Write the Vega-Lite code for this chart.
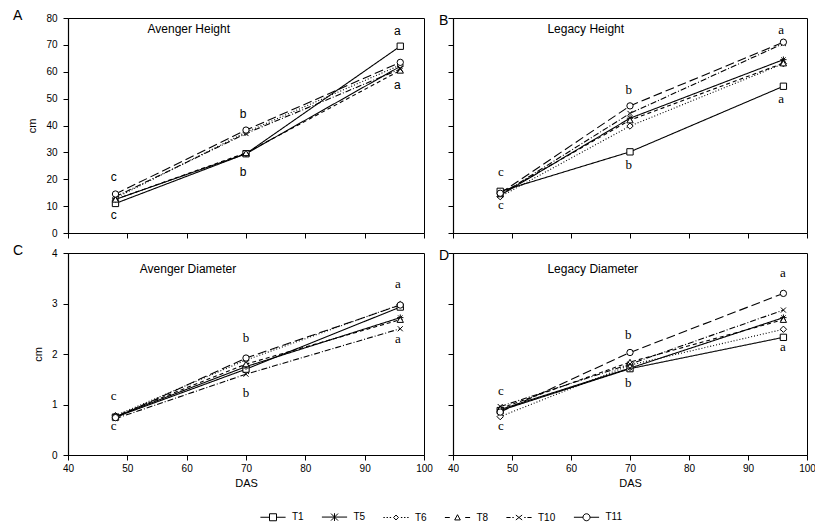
{
  "$schema": "https://vega.github.io/schema/vega-lite/v6.json",
  "padding": {"left": 12, "top": 8, "right": 5, "bottom": 2},
  "datasets": {
    "lines": [
      {"panel":"A","T":"T1","DAS":48,"v":11},{"panel":"A","T":"T1","DAS":70,"v":29.5},{"panel":"A","T":"T1","DAS":96,"v":69.5},
      {"panel":"A","T":"T5","DAS":48,"v":12.5},{"panel":"A","T":"T5","DAS":70,"v":29.5},{"panel":"A","T":"T5","DAS":96,"v":62},
      {"panel":"A","T":"T6","DAS":48,"v":13},{"panel":"A","T":"T6","DAS":70,"v":37.5},{"panel":"A","T":"T6","DAS":96,"v":62.5},
      {"panel":"A","T":"T8","DAS":48,"v":12.5},{"panel":"A","T":"T8","DAS":70,"v":29.8},{"panel":"A","T":"T8","DAS":96,"v":60.5},
      {"panel":"A","T":"T10","DAS":48,"v":13.5},{"panel":"A","T":"T10","DAS":70,"v":37},{"panel":"A","T":"T10","DAS":96,"v":61},
      {"panel":"A","T":"T11","DAS":48,"v":14.5},{"panel":"A","T":"T11","DAS":70,"v":38.3},{"panel":"A","T":"T11","DAS":96,"v":63.5},
      {"panel":"B","T":"T1","DAS":48,"v":15.5},{"panel":"B","T":"T1","DAS":70,"v":30.2},{"panel":"B","T":"T1","DAS":96,"v":54.6},
      {"panel":"B","T":"T5","DAS":48,"v":14},{"panel":"B","T":"T5","DAS":70,"v":42.7},{"panel":"B","T":"T5","DAS":96,"v":64.5},
      {"panel":"B","T":"T6","DAS":48,"v":13.5},{"panel":"B","T":"T6","DAS":70,"v":39.8},{"panel":"B","T":"T6","DAS":96,"v":63},
      {"panel":"B","T":"T8","DAS":48,"v":14.5},{"panel":"B","T":"T8","DAS":70,"v":42},{"panel":"B","T":"T8","DAS":96,"v":63.2},
      {"panel":"B","T":"T10","DAS":48,"v":14.2},{"panel":"B","T":"T10","DAS":70,"v":44.5},{"panel":"B","T":"T10","DAS":96,"v":70.5},
      {"panel":"B","T":"T11","DAS":48,"v":14.8},{"panel":"B","T":"T11","DAS":70,"v":47.3},{"panel":"B","T":"T11","DAS":96,"v":71},
      {"panel":"C","T":"T1","DAS":48,"v":0.75},{"panel":"C","T":"T1","DAS":70,"v":1.7},{"panel":"C","T":"T1","DAS":96,"v":2.93},
      {"panel":"C","T":"T5","DAS":48,"v":0.76},{"panel":"C","T":"T5","DAS":70,"v":1.75},{"panel":"C","T":"T5","DAS":96,"v":2.72},
      {"panel":"C","T":"T6","DAS":48,"v":0.78},{"panel":"C","T":"T6","DAS":70,"v":1.88},{"panel":"C","T":"T6","DAS":96,"v":2.98},
      {"panel":"C","T":"T8","DAS":48,"v":0.77},{"panel":"C","T":"T8","DAS":70,"v":1.8},{"panel":"C","T":"T8","DAS":96,"v":2.68},
      {"panel":"C","T":"T10","DAS":48,"v":0.72},{"panel":"C","T":"T10","DAS":70,"v":1.6},{"panel":"C","T":"T10","DAS":96,"v":2.5},
      {"panel":"C","T":"T11","DAS":48,"v":0.74},{"panel":"C","T":"T11","DAS":70,"v":1.92},{"panel":"C","T":"T11","DAS":96,"v":2.97},
      {"panel":"D","T":"T1","DAS":48,"v":0.88},{"panel":"D","T":"T1","DAS":70,"v":1.71},{"panel":"D","T":"T1","DAS":96,"v":2.33},
      {"panel":"D","T":"T5","DAS":48,"v":0.9},{"panel":"D","T":"T5","DAS":70,"v":1.72},{"panel":"D","T":"T5","DAS":96,"v":2.72},
      {"panel":"D","T":"T6","DAS":48,"v":0.76},{"panel":"D","T":"T6","DAS":70,"v":1.78},{"panel":"D","T":"T6","DAS":96,"v":2.49},
      {"panel":"D","T":"T8","DAS":48,"v":0.92},{"panel":"D","T":"T8","DAS":70,"v":1.84},{"panel":"D","T":"T8","DAS":96,"v":2.68},
      {"panel":"D","T":"T10","DAS":48,"v":0.96},{"panel":"D","T":"T10","DAS":70,"v":1.8},{"panel":"D","T":"T10","DAS":96,"v":2.87},
      {"panel":"D","T":"T11","DAS":48,"v":0.85},{"panel":"D","T":"T11","DAS":70,"v":2.03},{"panel":"D","T":"T11","DAS":96,"v":3.2}
    ],
    "sig": [
      {"panel":"A","DAS":47.7,"v":20.8,"label":"c"},{"panel":"A","DAS":47.7,"v":6.8,"label":"c"},
      {"panel":"A","DAS":69.5,"v":44.3,"label":"b"},{"panel":"A","DAS":69.5,"v":22.7,"label":"b"},
      {"panel":"A","DAS":95.5,"v":75.3,"label":"a"},{"panel":"A","DAS":95.5,"v":55.1,"label":"a"},
      {"panel":"B","DAS":48.1,"v":22.7,"label":"c"},{"panel":"B","DAS":48.1,"v":10.3,"label":"c"},
      {"panel":"B","DAS":69.8,"v":53.2,"label":"b"},{"panel":"B","DAS":69.8,"v":25.2,"label":"b"},
      {"panel":"B","DAS":95.6,"v":75.6,"label":"a"},{"panel":"B","DAS":95.6,"v":49.9,"label":"a"},
      {"panel":"C","DAS":47.7,"v":1.17,"label":"c"},{"panel":"C","DAS":47.7,"v":0.57,"label":"c"},
      {"panel":"C","DAS":70,"v":2.31,"label":"b"},{"panel":"C","DAS":70,"v":1.22,"label":"b"},
      {"panel":"C","DAS":95.6,"v":3.38,"label":"a"},{"panel":"C","DAS":95.6,"v":2.29,"label":"a"},
      {"panel":"D","DAS":48.1,"v":1.26,"label":"c"},{"panel":"D","DAS":48.1,"v":0.58,"label":"c"},
      {"panel":"D","DAS":69.7,"v":2.37,"label":"b"},{"panel":"D","DAS":69.7,"v":1.43,"label":"b"},
      {"panel":"D","DAS":95.9,"v":3.6,"label":"a"},{"panel":"D","DAS":95.9,"v":2.14,"label":"a"}
    ],
    "ttl": [
      {"panel":"A","DAS":53.4,"v":75.9,"label":"Avenger Height"},
      {"panel":"B","DAS":56,"v":76,"label":"Legacy Height"},
      {"panel":"C","DAS":52.1,"v":3.68,"label":"Avenger Diameter"},
      {"panel":"D","DAS":56,"v":3.68,"label":"Legacy Diameter"}
    ]
  },
  "concat": [
    {
      "width": 356, "height": 215,
      "title": {"text": "A", "dx": -55},
      "resolve": {"scale": {"shape": "independent"}, "legend": {"shape": "independent"}},
      "layer": [
        {"data": {"name": "lines"}, "transform": [{"filter": "datum.panel==='A'"}],
         "mark": {"type": "line", "color": "black", "strokeWidth": 1.1},
         "encoding": {
           "x": {"field": "DAS", "type": "quantitative", "scale": {"domain": [40, 100]}, "axis": {"tickCount": 7, "labels": false, "title": null}},
           "y": {"field": "v", "type": "quantitative", "scale": {"domain": [0, 80]}, "axis": {"tickCount": 9, "format": "d", "labelOverlap": false, "title": "cm"}},
           "strokeDash": {"field": "T", "type": "nominal", "scale": {"domain": ["T1","T5","T6","T8","T10","T11"], "range": [[1,0],[1,0],[1,2],[4,3],[6,2,1,2],[9,4]]}, "legend": null}
         }},
        {"data": {"name": "lines"}, "transform": [{"filter": "datum.panel==='A'"}],
         "mark": {"type": "point", "fill": "white", "stroke": "black", "strokeWidth": 1, "size": 40, "opacity": 1},
         "encoding": {
           "x": {"field": "DAS", "type": "quantitative", "scale": {"domain": [40, 100]}},
           "y": {"field": "v", "type": "quantitative", "scale": {"domain": [0, 80]}},
           "shape": {"field": "T", "type": "nominal", "scale": {"domain": ["T1","T5","T6","T8","T10","T11"], "range": ["square", "M-1,0H1M0,-1V1M-0.7,-0.7L0.7,0.7M-0.7,0.7L0.7,-0.7", "diamond", "triangle-up", "M-0.8,-0.8L0.8,0.8M-0.8,0.8L0.8,-0.8", "circle"]}, "legend": null}
         }},
        {"data": {"name": "lines"}, "transform": [{"filter": "datum.panel==='none'"}],
         "mark": {"type": "point", "color": "black", "filled": false, "strokeWidth": 1, "opacity": 1},
         "encoding": {
           "x": {"field": "DAS", "type": "quantitative", "scale": {"domain": [40, 100]}},
           "y": {"field": "v", "type": "quantitative", "scale": {"domain": [0, 80]}},
           "shape": {"field": "T", "type": "nominal",
             "scale": {"domain": ["T1","T5","T6","T8","T10","T11"], "range": [
               "M-3.6,0H-1M1,0H3.6M-1,-1H1V1H-1Z",
               "M-3.6,0H3.6M-1,-1L1,1M-1,1L1,-1M0,-1.1V1.1",
               "M-3.6,0H-3.2M-2.7,0H-2.3M-1.8,0H-1.4M1.4,0H1.8M2.3,0H2.7M3.2,0H3.6M0,-0.7L0.7,0L0,0.7L-0.7,0Z",
               "M-3.6,0H-2.2M2.2,0H3.6M-0.8,0.7L0,-0.8L0.8,0.7Z",
               "M-3.6,0H-2.4M-1.9,0H-1.5M1.5,0H1.9M2.4,0H3.6M-0.9,-0.7L0.9,0.7M-0.9,0.7L0.9,-0.7",
               "M-3.6,0H-1M1,0H3.6M1,0A1,1,0,1,1,-1,0A1,1,0,1,1,1,0Z"]},
             "legend": {"orient": "none", "legendX": 200, "legendY": 494, "direction": "horizontal", "title": null, "symbolSize": 49, "symbolStrokeWidth": 1, "symbolOpacity": 1, "labelFont": "Liberation Sans Narrow, Arial Narrow, Liberation Sans, sans-serif", "labelFontSize": 10, "labelColor": "black", "labelOffset": 14, "columnPadding": 15.5,
               "encode": {"symbols": {"stroke": {"value": "black"}, "fill": {"value": "white"}, "strokeWidth": {"value": 1}, "opacity": {"value": 1}}}}}
         }},
        {"data": {"name": "sig"}, "transform": [{"filter": "datum.panel==='A'"}],
         "mark": {"type": "text", "font": "Liberation Sans Narrow, Arial Narrow, Liberation Sans, sans-serif", "fontSize": 12, "color": "black", "fill": "black"},
         "encoding": {
           "x": {"field": "DAS", "type": "quantitative", "scale": {"domain": [40, 100]}},
           "y": {"field": "v", "type": "quantitative", "scale": {"domain": [0, 80]}},
           "text": {"field": "label"}
         }},
        {"data": {"name": "ttl"}, "transform": [{"filter": "datum.panel==='A'"}],
         "mark": {"type": "text", "font": "Liberation Sans, sans-serif", "fontSize": 12, "align": "left", "color": "black", "fill": "black"},
         "encoding": {
           "x": {"field": "DAS", "type": "quantitative", "scale": {"domain": [40, 100]}},
           "y": {"field": "v", "type": "quantitative", "scale": {"domain": [0, 80]}},
           "text": {"field": "label"}
         }}
      ]
    },
    {
      "width": 354, "height": 215,
      "title": {"text": "B", "dx": -14},
      "layer": [
        {"data": {"name": "lines"}, "transform": [{"filter": "datum.panel==='B'"}],
         "mark": {"type": "line", "color": "black", "strokeWidth": 1.1},
         "encoding": {
           "x": {"field": "DAS", "type": "quantitative", "scale": {"domain": [40, 100]}, "axis": {"tickCount": 7, "labels": false, "title": null}},
           "y": {"field": "v", "type": "quantitative", "scale": {"domain": [0, 80]}, "axis": {"tickCount": 9, "labels": false, "title": null}},
           "strokeDash": {"field": "T", "type": "nominal", "scale": {"domain": ["T1","T5","T6","T8","T10","T11"], "range": [[1,0],[1,0],[1,2],[4,3],[6,2,1,2],[9,4]]}, "legend": null}
         }},
        {"data": {"name": "lines"}, "transform": [{"filter": "datum.panel==='B'"}],
         "mark": {"type": "point", "fill": "white", "stroke": "black", "strokeWidth": 1, "size": 40, "opacity": 1},
         "encoding": {
           "x": {"field": "DAS", "type": "quantitative", "scale": {"domain": [40, 100]}},
           "y": {"field": "v", "type": "quantitative", "scale": {"domain": [0, 80]}},
           "shape": {"field": "T", "type": "nominal", "scale": {"domain": ["T1","T5","T6","T8","T10","T11"], "range": ["square", "M-1,0H1M0,-1V1M-0.7,-0.7L0.7,0.7M-0.7,0.7L0.7,-0.7", "diamond", "triangle-up", "M-0.8,-0.8L0.8,0.8M-0.8,0.8L0.8,-0.8", "circle"]}, "legend": null}
         }},
        {"data": {"name": "sig"}, "transform": [{"filter": "datum.panel==='B'"}],
         "mark": {"type": "text", "font": "Liberation Serif, Times New Roman, serif", "fontSize": 13, "color": "black", "fill": "black"},
         "encoding": {
           "x": {"field": "DAS", "type": "quantitative", "scale": {"domain": [40, 100]}},
           "y": {"field": "v", "type": "quantitative", "scale": {"domain": [0, 80]}},
           "text": {"field": "label"}
         }},
        {"data": {"name": "ttl"}, "transform": [{"filter": "datum.panel==='B'"}],
         "mark": {"type": "text", "font": "Liberation Sans, sans-serif", "fontSize": 12, "align": "left", "color": "black", "fill": "black"},
         "encoding": {
           "x": {"field": "DAS", "type": "quantitative", "scale": {"domain": [40, 100]}},
           "y": {"field": "v", "type": "quantitative", "scale": {"domain": [0, 80]}},
           "text": {"field": "label"}
         }}
      ]
    },
    {
      "width": 356, "height": 202,
      "title": {"text": "C", "dx": -55},
      "layer": [
        {"data": {"name": "lines"}, "transform": [{"filter": "datum.panel==='C'"}],
         "mark": {"type": "line", "color": "black", "strokeWidth": 1.1},
         "encoding": {
           "x": {"field": "DAS", "type": "quantitative", "scale": {"domain": [40, 100]}, "axis": {"tickCount": 7, "format": "d", "labelOverlap": false, "title": "DAS"}},
           "y": {"field": "v", "type": "quantitative", "scale": {"domain": [0, 4]}, "axis": {"tickCount": 5, "format": "d", "labelOverlap": false, "title": "cm"}},
           "strokeDash": {"field": "T", "type": "nominal", "scale": {"domain": ["T1","T5","T6","T8","T10","T11"], "range": [[1,0],[1,0],[1,2],[4,3],[6,2,1,2],[9,4]]}, "legend": null}
         }},
        {"data": {"name": "lines"}, "transform": [{"filter": "datum.panel==='C'"}],
         "mark": {"type": "point", "fill": "white", "stroke": "black", "strokeWidth": 1, "size": 40, "opacity": 1},
         "encoding": {
           "x": {"field": "DAS", "type": "quantitative", "scale": {"domain": [40, 100]}},
           "y": {"field": "v", "type": "quantitative", "scale": {"domain": [0, 4]}},
           "shape": {"field": "T", "type": "nominal", "scale": {"domain": ["T1","T5","T6","T8","T10","T11"], "range": ["square", "M-1,0H1M0,-1V1M-0.7,-0.7L0.7,0.7M-0.7,0.7L0.7,-0.7", "diamond", "triangle-up", "M-0.8,-0.8L0.8,0.8M-0.8,0.8L0.8,-0.8", "circle"]}, "legend": null}
         }},
        {"data": {"name": "sig"}, "transform": [{"filter": "datum.panel==='C'"}],
         "mark": {"type": "text", "font": "Liberation Serif, Times New Roman, serif", "fontSize": 13, "color": "black", "fill": "black"},
         "encoding": {
           "x": {"field": "DAS", "type": "quantitative", "scale": {"domain": [40, 100]}},
           "y": {"field": "v", "type": "quantitative", "scale": {"domain": [0, 4]}},
           "text": {"field": "label"}
         }},
        {"data": {"name": "ttl"}, "transform": [{"filter": "datum.panel==='C'"}],
         "mark": {"type": "text", "font": "Liberation Sans, sans-serif", "fontSize": 12, "align": "left", "color": "black", "fill": "black"},
         "encoding": {
           "x": {"field": "DAS", "type": "quantitative", "scale": {"domain": [40, 100]}},
           "y": {"field": "v", "type": "quantitative", "scale": {"domain": [0, 4]}},
           "text": {"field": "label"}
         }}
      ]
    },
    {
      "width": 354, "height": 202,
      "title": {"text": "D", "dx": -14},
      "layer": [
        {"data": {"name": "lines"}, "transform": [{"filter": "datum.panel==='D'"}],
         "mark": {"type": "line", "color": "black", "strokeWidth": 1.1},
         "encoding": {
           "x": {"field": "DAS", "type": "quantitative", "scale": {"domain": [40, 100]}, "axis": {"tickCount": 7, "format": "d", "labelOverlap": false, "title": "DAS"}},
           "y": {"field": "v", "type": "quantitative", "scale": {"domain": [0, 4]}, "axis": {"tickCount": 5, "labels": false, "title": null}},
           "strokeDash": {"field": "T", "type": "nominal", "scale": {"domain": ["T1","T5","T6","T8","T10","T11"], "range": [[1,0],[1,0],[1,2],[4,3],[6,2,1,2],[9,4]]}, "legend": null}
         }},
        {"data": {"name": "lines"}, "transform": [{"filter": "datum.panel==='D'"}],
         "mark": {"type": "point", "fill": "white", "stroke": "black", "strokeWidth": 1, "size": 40, "opacity": 1},
         "encoding": {
           "x": {"field": "DAS", "type": "quantitative", "scale": {"domain": [40, 100]}},
           "y": {"field": "v", "type": "quantitative", "scale": {"domain": [0, 4]}},
           "shape": {"field": "T", "type": "nominal", "scale": {"domain": ["T1","T5","T6","T8","T10","T11"], "range": ["square", "M-1,0H1M0,-1V1M-0.7,-0.7L0.7,0.7M-0.7,0.7L0.7,-0.7", "diamond", "triangle-up", "M-0.8,-0.8L0.8,0.8M-0.8,0.8L0.8,-0.8", "circle"]}, "legend": null}
         }},
        {"data": {"name": "sig"}, "transform": [{"filter": "datum.panel==='D'"}],
         "mark": {"type": "text", "font": "Liberation Serif, Times New Roman, serif", "fontSize": 13, "color": "black", "fill": "black"},
         "encoding": {
           "x": {"field": "DAS", "type": "quantitative", "scale": {"domain": [40, 100]}},
           "y": {"field": "v", "type": "quantitative", "scale": {"domain": [0, 4]}},
           "text": {"field": "label"}
         }},
        {"data": {"name": "ttl"}, "transform": [{"filter": "datum.panel==='D'"}],
         "mark": {"type": "text", "font": "Liberation Sans, sans-serif", "fontSize": 12, "align": "left", "color": "black", "fill": "black"},
         "encoding": {
           "x": {"field": "DAS", "type": "quantitative", "scale": {"domain": [40, 100]}},
           "y": {"field": "v", "type": "quantitative", "scale": {"domain": [0, 4]}},
           "text": {"field": "label"}
         }}
      ]
    }
  ],
  "columns": 2,
  "bounds": "flush",
  "spacing": {"row": 20, "column": 29},
  "resolve": {"scale": {"shape": "independent", "strokeDash": "independent"}, "legend": {"shape": "independent", "strokeDash": "independent"}},
  "config": {
    "view": {"stroke": "black", "strokeWidth": 1},
    "axis": {"grid": false, "domainColor": "black", "tickColor": "black", "labelColor": "black", "titleColor": "black",
      "labelFont": "Liberation Sans Narrow, Arial Narrow, Liberation Sans, sans-serif", "labelFontSize": 10,
      "titleFont": "Liberation Sans Narrow, Arial Narrow, Liberation Sans, sans-serif", "titleFontSize": 11, "titleFontWeight": "normal",
      "tickSize": 5, "labelPadding": 6, "titlePadding": 8, "labelFlush": false, "labelOverlap": false, "domainWidth": 1.2},
    "axisX": {"labelPadding": 3, "titlePadding": 4},
    "title": {"anchor": "start", "frame": "group", "fontSize": 14, "fontWeight": "normal", "color": "black",
      "font": "Liberation Sans Narrow, Arial Narrow, Liberation Sans, sans-serif", "offset": -10, "baseline": "middle"}
  }
}
